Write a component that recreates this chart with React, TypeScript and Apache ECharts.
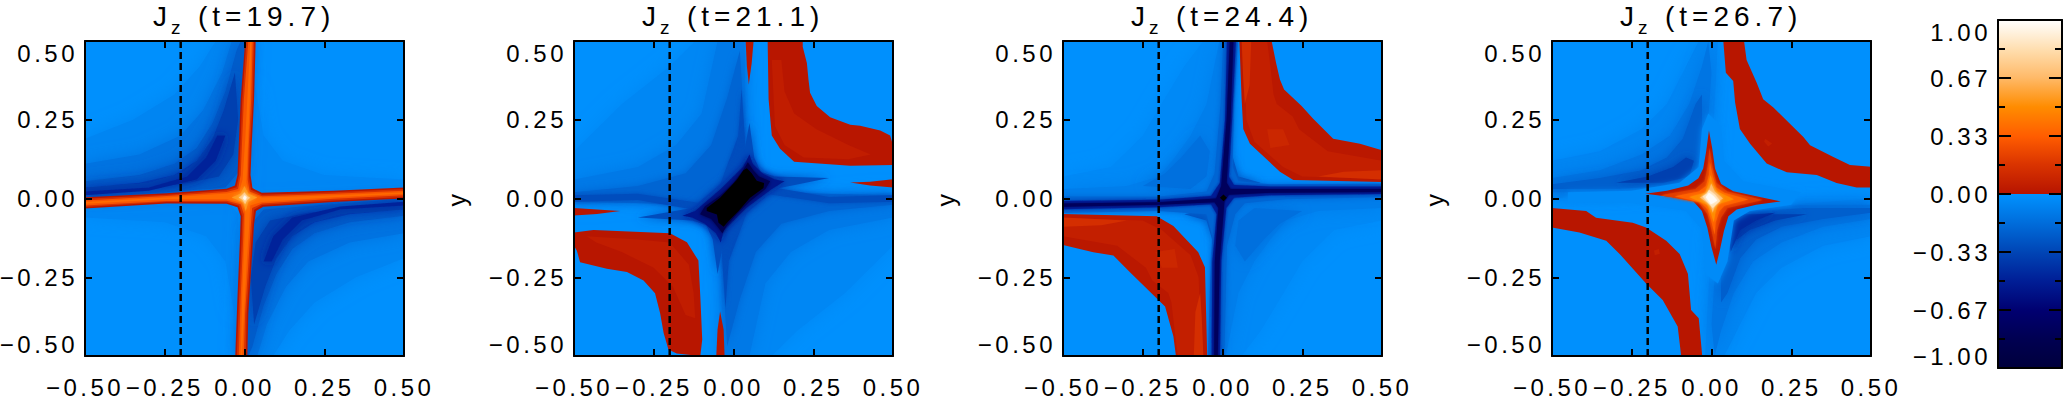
import React, { useEffect, useRef } from "react";
import * as echarts from "echarts";

type Layer = { level: number; pts: number[]; mirror?: boolean; soft?: number };

const titles = ["19.7", "21.1", "24.4", "26.7"];
const panelLefts = [85, 574, 1063, 1552];
const cutX = -0.2;
const cutLine = [[cutX, -0.5], [cutX, 0.5]];
const full = [-0.5, -0.5, 0.5, -0.5, 0.5, 0.5, -0.5, 0.5];

const negStops: [number, number[]][] = [
  [-1, [0, 0, 60]], [-0.83, [0, 0, 82]], [-0.67, [0, 0, 112]], [-0.5, [0, 30, 150]],
  [-0.33, [0, 70, 182]], [-0.17, [0, 108, 218]], [0, [0, 146, 255]],
];
const posStops: [number, number[]][] = [
  [0, [182, 20, 0]], [0.17, [218, 52, 0]], [0.33, [255, 92, 0]], [0.5, [255, 140, 0]],
  [0.67, [255, 186, 105]], [0.83, [255, 222, 175]], [1, [255, 255, 255]],
];

const panel1: Layer[] = [
  { level: -0.01, pts: full },
  { level: -0.05, mirror: true, soft: 16, pts: [0.03, 0.38, 0.06, 0.2, 0.12, 0.12, 0.25, 0.075, 0.5, 0.06, 0.5, 0.03, 0.05, 0.01, 0.02, 0.05] },
  { level: -0.06, mirror: true, soft: 18, pts: [-0.5, 0.19, -0.35, 0.25, -0.22, 0.33, -0.14, 0.42, -0.09, 0.5, 0.02, 0.5, 0, 0.02, -0.5, 0] },
  { level: -0.14, mirror: true, soft: 16, pts: [-0.5, 0.11, -0.33, 0.14, -0.2, 0.2, -0.13, 0.28, -0.07, 0.4, -0.04, 0.5, 0.02, 0.5, 0, 0.02, -0.5, 0] },
  { level: -0.24, mirror: true, soft: 14, pts: [-0.5, 0.055, -0.33, 0.075, -0.22, 0.11, -0.15, 0.16, -0.1, 0.24, -0.06, 0.34, -0.025, 0.47, -0.012, 0.5, 0.01, 0.5, -0.005, 0.1, -0.06, 0.035, -0.5, 0] },
  { level: -0.36, mirror: true, soft: 12, pts: [-0.5, 0.035, -0.33, 0.05, -0.22, 0.075, -0.15, 0.12, -0.1, 0.19, -0.065, 0.28, -0.03, 0.4, -0.02, 0.25, -0.035, 0.14, -0.08, 0.07, -0.2, 0.045, -0.5, 0.015] },
  { level: -0.48, mirror: true, soft: 10, pts: [-0.5, 0.022, -0.3, 0.035, -0.18, 0.07, -0.12, 0.13, -0.085, 0.2, -0.06, 0.2, -0.09, 0.12, -0.15, 0.06, -0.3, 0.025, -0.5, 0.01] },
  { level: 0.01, pts: [0.002, 0.5, 0.035, 0.5, 0.03, 0.315, 0.022, 0.158, 0.019, 0.075, 0.025, 0.033, 0.054, 0.018, 0.278, 0.025, 0.5, 0.035, 0.5, 0, 0.278, -0.011, 0.059, -0.026, 0.036, -0.04, 0.03, -0.082, 0.022, -0.207, 0.012, -0.364, 0.009, -0.5, -0.029, -0.5, -0.022, -0.312, -0.014, -0.124, -0.012, -0.056, -0.022, -0.028, -0.056, -0.017, -0.244, -0.016, -0.5, -0.032, -0.5, 0.004, -0.244, 0.017, -0.056, 0.031, -0.03, 0.041, -0.022, 0.075, -0.012, 0.315] },
  { level: 0.15, pts: [0.006, 0.5, 0.03, 0.5, 0.026, 0.315, 0.017, 0.158, 0.014, 0.07, 0.02, 0.028, 0.055, 0.012, 0.28, 0.02, 0.5, 0.03, 0.5, 0.005, 0.28, -0.006, 0.055, -0.021, 0.03, -0.036, 0.025, -0.082, 0.017, -0.207, 0.007, -0.364, 0.004, -0.5, -0.024, -0.5, -0.017, -0.312, -0.009, -0.124, -0.007, -0.056, -0.017, -0.023, -0.056, -0.012, -0.244, -0.011, -0.5, -0.027, -0.5, -0.001, -0.244, 0.012, -0.056, 0.026, -0.025, 0.036, -0.017, 0.075, -0.007, 0.315] },
  { level: 0.3, pts: [0.012, 0.5, 0.026, 0.5, 0.021, 0.315, 0.013, 0.158, 0.01, 0.06, 0.016, 0.022, 0.055, 0.007, 0.28, 0.015, 0.5, 0.025, 0.5, 0.01, 0.28, -0.001, 0.055, -0.016, 0.024, -0.03, 0.02, -0.082, 0.012, -0.207, 0.002, -0.364, -0.002, -0.5, -0.018, -0.5, -0.012, -0.312, -0.004, -0.124, -0.002, -0.05, -0.012, -0.018, -0.056, -0.007, -0.244, -0.008, -0.5, -0.022, -0.5, -0.006, -0.244, 0.008, -0.056, 0.021, -0.02, 0.03, -0.012, 0.075, -0.002, 0.315] },
  { level: 0.38, pts: [0.018, 0.5, 0.022, 0.5, 0.017, 0.315, 0.009, 0.13, 0.006, 0.05, 0.012, 0.018, 0.055, 0.003, 0.28, 0.01, 0.5, 0.02, 0.5, 0.015, 0.28, 0.004, 0.055, -0.011, 0.018, -0.022, 0.015, -0.082, 0.007, -0.207, -0.003, -0.4, -0.008, -0.5, -0.012, -0.5, -0.007, -0.3, 0, -0.124, 0.002, -0.045, -0.007, -0.014, -0.056, -0.002, -0.244, -0.002, -0.5, -0.017, -0.5, -0.011, -0.244, 0.003, -0.056, 0.016, -0.016, 0.024, -0.006, 0.06, 0.003, 0.2] },
  { level: 0.55, soft: 4, pts: [0, 0.04, 0.012, 0.015, 0.04, 0.003, 0.012, -0.01, 0.004, -0.04, -0.004, -0.012, -0.04, 0.003, -0.012, 0.016] },
  { level: 0.75, soft: 3, pts: [0, 0.02, 0.008, 0.008, 0.018, 0.002, 0.008, -0.005, 0.002, -0.018, -0.006, -0.004, -0.018, 0.003, -0.008, 0.01] },
  { level: 0.97, soft: 2, pts: [0, 0.01, 0.007, 0.003, 0.002, -0.006, -0.005, 0.001] },
];

const panel2: Layer[] = [
  { level: -0.01, pts: full },
  { level: -0.05, mirror: true, soft: 18, pts: [-0.5, 0.15, -0.35, 0.3, -0.2, 0.42, -0.12, 0.5, 0.04, 0.5, 0.05, 0.1, 0, 0.02, -0.5, -0.02] },
  { level: -0.11, mirror: true, soft: 16, pts: [-0.5, 0.06, -0.3, 0.1, -0.18, 0.17, -0.1, 0.27, -0.05, 0.5, 0.035, 0.5, 0.04, 0.1, -0.5, 0] },
  { level: -0.2, mirror: true, soft: 10, pts: [-0.5, 0.02, -0.3, 0.04, -0.15, 0.08, -0.07, 0.17, -0.02, 0.32, 0.02, 0.47, 0.03, 0.3, 0.04, 0.08, -0.1, -0.02, -0.5, -0.01] },
  { level: -0.3, mirror: true, soft: 5, pts: [-0.5, 0.01, -0.3, 0.015, -0.1, -0.015, -0.04, 0.05, 0.015, 0.2, 0.025, 0.35, 0.035, 0.2, 0.04, 0.1, 0, -0.02, -0.1, -0.04, -0.3, -0.005, -0.5, -0.01] },
  { level: -0.3, soft: 10, pts: [0.05, 0.24, 0.065, 0.13, 0.085, 0.085, 0.13, 0.07, 0.3, 0.065, 0.13, 0.03, 0.06, -0.03, 0.01, -0.07, -0.03, -0.13, -0.05, -0.24, -0.065, -0.13, -0.085, -0.085, -0.13, -0.07, -0.3, -0.06, -0.13, -0.03, -0.06, 0.03, -0.01, 0.07, 0.03, 0.13] },
  { level: -0.55, soft: 7, pts: [0.05, 0.14, 0.06, 0.11, 0.09, 0.08, 0.13, 0.06, 0.16, 0.055, 0.12, 0.03, 0.04, -0.03, -0.03, -0.1, -0.04, -0.14, -0.055, -0.11, -0.09, -0.08, -0.13, -0.06, -0.16, -0.055, -0.12, -0.04, -0.04, 0.03, 0.03, 0.1] },
  { level: -0.85, soft: 4, pts: [0.045, 0.115, 0.062, 0.09, 0.08, 0.07, 0.115, 0.055, 0.1, 0.03, 0.05, -0.01, 0.01, -0.05, -0.02, -0.085, -0.035, -0.11, -0.05, -0.09, -0.07, -0.065, -0.105, -0.05, -0.09, -0.025, -0.04, 0.01, 0, 0.05, 0.03, 0.09] },
  { level: -1.1, pts: [0.042, 0.096, 0.057, 0.08, 0.073, 0.056, 0.096, 0.049, 0.094, 0.033, 0.052, 0.002, 0.016, -0.04, -0.016, -0.072, -0.031, -0.09, -0.047, -0.077, -0.052, -0.051, -0.084, -0.04, -0.084, -0.03, -0.042, 0.002, 0.01, 0.059, 0.031, 0.09] },
  { level: 0.01, pts: [0.107, 0.5, 0.217, 0.5, 0.217, 0.482, 0.23, 0.43, 0.235, 0.378, 0.24, 0.336, 0.261, 0.294, 0.303, 0.258, 0.366, 0.234, 0.397, 0.231, 0.46, 0.216, 0.491, 0.2, 0.5, 0.169, 0.5, 0.106, 0.366, 0.104, 0.19, 0.117, 0.146, 0.158, 0.12, 0.2, 0.11, 0.315] },
  { level: 0.05, pts: [0.12, 0.44, 0.15, 0.44, 0.16, 0.34, 0.19, 0.27, 0.26, 0.22, 0.36, 0.17, 0.43, 0.14, 0.36, 0.125, 0.22, 0.13, 0.16, 0.17, 0.13, 0.23] },
  { level: 0.01, pts: [-0.5, -0.108, -0.439, -0.1, -0.199, -0.11, -0.146, -0.139, -0.11, -0.197, -0.104, -0.312, -0.098, -0.448, -0.104, -0.5, -0.178, -0.492, -0.204, -0.479, -0.219, -0.427, -0.23, -0.364, -0.246, -0.301, -0.282, -0.26, -0.334, -0.233, -0.397, -0.223, -0.481, -0.202, -0.491, -0.166, -0.5, -0.15] },
  { level: 0.05, pts: [-0.46, -0.12, -0.3, -0.13, -0.2, -0.14, -0.14, -0.21, -0.125, -0.3, -0.12, -0.38, -0.15, -0.37, -0.19, -0.28, -0.25, -0.22, -0.35, -0.17, -0.43, -0.14] },
  { level: 0.01, pts: [0.038, 0.5, 0.063, 0.5, 0.057, 0.43, 0.048, 0.362, 0.042, 0.42] },
  { level: 0.01, pts: [-0.054, -0.5, -0.028, -0.5, -0.031, -0.416, -0.042, -0.359, -0.05, -0.416] },
  { level: 0.01, pts: [0.5, 0.061, 0.5, 0.035, 0.428, 0.041, 0.366, 0.051, 0.428, 0.053] },
  { level: 0.01, pts: [-0.5, -0.03, -0.5, -0.054, -0.428, -0.049, -0.355, -0.04, -0.428, -0.035] },
];

const panel3: Layer[] = [
  { level: -0.01, pts: full },
  { level: -0.04, mirror: true, soft: 18, pts: [-0.5, 0.07, -0.35, 0.1, -0.25, 0.2, -0.18, 0.32, -0.12, 0.42, -0.06, 0.5, 0.01, 0.5, 0, 0, -0.5, -0.01] },
  { level: -0.09, mirror: true, soft: 16, pts: [-0.5, 0.03, -0.3, 0.04, -0.2, 0.07, -0.15, 0.13, -0.1, 0.2, -0.05, 0.3, -0.01, 0.5, 0.01, 0.5, 0, 0, -0.5, -0.01] },
  { level: -0.15, mirror: true, soft: 14, pts: [-0.25, 0.04, -0.18, 0.08, -0.13, 0.13, -0.07, 0.2, -0.04, 0.15, -0.05, 0.07, -0.1, 0.03] },
  { level: -0.28, mirror: true, soft: 8, pts: [0.03, 0.14, 0.05, 0.07, 0.12, 0.05, 0.03, 0.03] },
  { level: -0.2, soft: 6, pts: [0.002, 0.5, 0.048, 0.5, 0.036, 0.3, 0.032, 0.1, 0.05, 0.055, 0.15, 0.045, 0.5, 0.048, 0.5, 0.004, 0.2, -0.002, 0.07, -0.015, 0.04, -0.05, 0.014, -0.15, 0.006, -0.5, -0.046, -0.5, -0.04, -0.3, -0.032, -0.12, -0.05, -0.05, -0.2, -0.04, -0.5, -0.046, -0.5, 0.006, -0.2, 0.006, -0.05, 0.022, -0.025, 0.08, -0.006, 0.3] },
  { level: -0.5, soft: 3, pts: [0.014, 0.5, 0.042, 0.5, 0.03, 0.25, 0.02, 0.07, 0.036, 0.043, 0.15, 0.038, 0.5, 0.038, 0.5, 0.014, 0.15, 0.01, 0.036, 0.002, 0.012, -0.03, -0.004, -0.2, -0.008, -0.5, -0.034, -0.5, -0.032, -0.2, -0.018, -0.05, -0.036, -0.018, -0.2, -0.028, -0.5, -0.034, -0.5, -0.008, -0.2, -0.004, -0.036, 0.008, -0.008, 0.05, 0.008, 0.25] },
  { level: -0.78, soft: 2, pts: [0.023, 0.5, 0.034, 0.5, 0.025, 0.25, 0.013, 0.05, 0.025, 0.03, 0.15, 0.03, 0.5, 0.03, 0.5, 0.021, 0.15, 0.018, 0.02, 0.012, 0.006, -0.01, -0.009, -0.2, -0.015, -0.5, -0.026, -0.5, -0.024, -0.2, -0.013, -0.03, -0.025, -0.012, -0.2, -0.02, -0.5, -0.026, -0.5, -0.016, -0.2, -0.012, -0.02, 0, -0.004, 0.04, 0.013, 0.25] },
  { level: -1.1, pts: [0.003, 0.013, 0.014, 0.002, 0.003, -0.009, -0.008, 0.002] },
  { level: 0.02, pts: [0.053, 0.5, 0.154, 0.5, 0.168, 0.43, 0.18, 0.378, 0.193, 0.346, 0.248, 0.294, 0.285, 0.252, 0.347, 0.19, 0.431, 0.174, 0.5, 0.153, 0.5, 0.052, 0.222, 0.059, 0.18, 0.085, 0.086, 0.174, 0.065, 0.221, 0.06, 0.315] },
  { level: 0.06, pts: [0.065, 0.5, 0.14, 0.5, 0.15, 0.42, 0.16, 0.33, 0.17, 0.3, 0.22, 0.26, 0.24, 0.22, 0.33, 0.15, 0.5, 0.12, 0.5, 0.062, 0.25, 0.07, 0.19, 0.1, 0.1, 0.18, 0.075, 0.25] },
  { level: 0.14, pts: [0.06, 0.5, 0.09, 0.5, 0.085, 0.36, 0.07, 0.3, 0.065, 0.38] },
  { level: 0.14, pts: [0.5, 0.06, 0.5, 0.09, 0.38, 0.085, 0.3, 0.07] },
  { level: 0.1, pts: [0.14, 0.22, 0.19, 0.22, 0.21, 0.17, 0.15, 0.16] },
  { level: 0.02, pts: [-0.5, -0.049, -0.206, -0.056, -0.154, -0.087, -0.076, -0.171, -0.055, -0.218, -0.048, -0.5, -0.146, -0.5, -0.154, -0.437, -0.18, -0.343, -0.201, -0.322, -0.29, -0.234, -0.342, -0.181, -0.405, -0.171, -0.5, -0.148] },
  { level: 0.06, pts: [-0.065, -0.5, -0.14, -0.5, -0.15, -0.42, -0.16, -0.33, -0.17, -0.3, -0.22, -0.26, -0.24, -0.22, -0.33, -0.15, -0.5, -0.12, -0.5, -0.062, -0.25, -0.07, -0.19, -0.1, -0.1, -0.18, -0.075, -0.25] },
  { level: 0.14, pts: [-0.06, -0.5, -0.09, -0.5, -0.085, -0.36, -0.07, -0.3, -0.065, -0.38] },
  { level: 0.14, pts: [-0.5, -0.06, -0.5, -0.09, -0.38, -0.085, -0.3, -0.07] },
  { level: 0.1, pts: [-0.14, -0.22, -0.19, -0.22, -0.21, -0.17, -0.15, -0.16] },
];

const panel4: Layer[] = [
  { level: -0.01, pts: full },
  { level: -0.06, mirror: true, soft: 18, pts: [-0.5, 0.12, -0.35, 0.15, -0.22, 0.22, -0.14, 0.3, -0.08, 0.42, -0.04, 0.5, 0.02, 0.5, 0, 0.1, -0.1, 0.03, -0.5, 0] },
  { level: -0.13, mirror: true, soft: 16, pts: [-0.5, 0.065, -0.35, 0.09, -0.22, 0.14, -0.13, 0.2, -0.07, 0.3, -0.03, 0.42, -0.01, 0.5, 0, 0.4, -0.01, 0.25, -0.03, 0.09, -0.1, 0.03, -0.3, 0.02, -0.5, 0.02] },
  { level: -0.23, mirror: true, soft: 12, pts: [-0.5, 0.045, -0.35, 0.065, -0.22, 0.09, -0.14, 0.13, -0.09, 0.19, -0.05, 0.3, -0.03, 0.33, -0.03, 0.15, -0.05, 0.08, -0.12, 0.04, -0.3, 0.03, -0.5, 0.03] },
  { level: -0.36, mirror: true, soft: 10, pts: [-0.3, 0.05, -0.2, 0.07, -0.12, 0.1, -0.08, 0.13, -0.055, 0.12, -0.07, 0.07, -0.15, 0.05] },
  { level: -0.45, soft: 8, pts: [0.08, -0.05, 0.14, -0.05, 0.2, -0.045, 0.14, -0.07, 0.09, -0.1, 0.06, -0.17, 0.05, -0.1] },
  { level: -0.03, soft: 6, pts: [-0.45, 0.02, -0.25, 0.025, -0.1, 0.05, -0.04, 0.1, -0.03, 0.22, -0.01, 0.27, 0.03, 0.23, 0.04, 0.12, 0.1, 0.055, 0.28, 0.02, 0.25, -0.02, 0.12, -0.04, 0.07, -0.07, 0.05, -0.2, 0.02, -0.27, -0.02, -0.24, -0.03, -0.1, -0.08, -0.04, -0.25, -0.015, -0.45, -0.012] },
  { level: 0.01, pts: [0.037, 0.5, 0.102, 0.5, 0.11, 0.44, 0.142, 0.367, 0.162, 0.315, 0.194, 0.289, 0.288, 0.195, 0.309, 0.169, 0.382, 0.132, 0.434, 0.106, 0.5, 0.101, 0.5, 0.035, 0.455, 0.035, 0.392, 0.049, 0.33, 0.075, 0.236, 0.083, 0.173, 0.111, 0.121, 0.174, 0.089, 0.221, 0.074, 0.305, 0.068, 0.373, 0.045, 0.399] },
  { level: 0.01, pts: [-0.5, -0.03, -0.393, -0.04, -0.362, -0.061, -0.247, -0.077, -0.205, -0.092, -0.142, -0.134, -0.1, -0.176, -0.074, -0.239, -0.064, -0.354, -0.04, -0.38, -0.029, -0.5, -0.095, -0.5, -0.106, -0.406, -0.153, -0.322, -0.205, -0.27, -0.288, -0.176, -0.33, -0.134, -0.414, -0.108, -0.5, -0.092] },
  { level: 0.06, pts: [0.168, 0.19, 0.19, 0.175, 0.178, 0.165, 0.165, 0.18] },
  { level: 0.06, pts: [-0.165, -0.16, -0.18, -0.165, -0.178, -0.18, -0.162, -0.175] },
  { level: 0.01, pts: [-0.008, 0.216, 0.002, 0.16, 0.011, 0.095, 0.03, 0.046, 0.068, 0.023, 0.14, 0.007, 0.217, -0.009, 0.14, -0.02, 0.079, -0.035, 0.053, -0.056, 0.039, -0.103, 0.026, -0.165, 0.015, -0.21, 0, -0.155, -0.013, -0.093, -0.03, -0.04, -0.057, -0.009, -0.119, 0.004, -0.208, 0.015, -0.14, 0.025, -0.073, 0.041, -0.041, 0.064, -0.026, 0.095, -0.017, 0.148] },
  { level: 0.2, soft: 3, pts: [-0.006, 0.16, 0.003, 0.1, 0.015, 0.05, 0.05, 0.022, 0.16, -0.005, 0.05, -0.03, 0.03, -0.06, 0.018, -0.1, 0.012, -0.16, 0, -0.1, -0.012, -0.05, -0.04, -0.012, -0.16, 0.01, -0.05, 0.03, -0.022, 0.055, -0.012, 0.1] },
  { level: 0.35, soft: 3, pts: [-0.005, 0.115, 0.004, 0.07, 0.015, 0.035, 0.04, 0.018, 0.115, -0.003, 0.04, -0.023, 0.025, -0.04, 0.013, -0.075, 0.01, -0.115, -0.001, -0.07, -0.012, -0.035, -0.035, -0.012, -0.115, 0.007, -0.04, 0.022, -0.017, 0.04, -0.008, 0.075] },
  { level: 0.5, soft: 3, pts: [-0.003, 0.075, 0.005, 0.045, 0.018, 0.022, 0.07, -0.002, 0.02, -0.018, 0.012, -0.045, 0.007, -0.075, -0.002, -0.045, -0.014, -0.02, -0.07, 0.005, -0.02, 0.018, -0.01, 0.045] },
  { level: 0.67, soft: 3, pts: [-0.001, 0.048, 0.01, 0.022, 0.036, 0, 0.012, -0.015, 0.004, -0.045, -0.003, -0.02, -0.036, 0.003, -0.01, 0.018] },
  { level: 0.85, soft: 3, pts: [-0.008, 0.028, 0.012, 0.012, 0.027, -0.008, 0.012, -0.022, 0.004, -0.03, -0.012, -0.012, -0.028, 0.006, -0.015, 0.015] },
  { level: 0.98, soft: 2, pts: [-0.008, 0.018, 0.006, 0.008, 0.018, -0.006, 0.006, -0.014, -0.002, -0.018, -0.01, -0.006, -0.018, 0.004] },
];

const panels = [panel1, panel2, panel3, panel4];

function ramp(stops: [number, number[]][], v: number) {
  for (let i = 1; i < stops.length; i++) {
    const [a, ca] = stops[i - 1];
    const [b, cb] = stops[i];
    if (v <= b) {
      const t = (v - a) / (b - a);
      return `rgb(${ca.map((c, k) => Math.round(c + (cb[k] - c) * t)).join(",")})`;
    }
  }
  return "#fff";
}
function colorOf(level: number) {
  if (level < -1) return "#000";
  return level < 0 ? ramp(negStops, level) : ramp(posStops, level);
}
function expand(layers: Layer[]) {
  const out: Layer[] = [];
  layers.forEach((l) => {
    out.push(l);
    if (l.mirror) out.push({ ...l, pts: l.pts.map((p) => -p) });
  });
  return out;
}
function fmt(v: number) {
  const s = Math.abs(v) < 1e-6 ? "0.00" : v.toFixed(2);
  return s.replace("-", "\u2212");
}

const css = `
.jz text { letter-spacing: 3.5px; }
.jz text[style*="28px"] { letter-spacing: 5px; }
`;

export default function App() {
  const ref = useRef<HTMLDivElement>(null);
  useEffect(() => {
    const chart = echarts.init(ref.current!, null, { renderer: "svg" });
    const font = "Liberation Sans";
    const grid: any[] = [];
    const xAxis: any[] = [];
    const yAxis: any[] = [];
    const series: any[] = [];
    const graphic: any[] = [];
    const line = { show: true, onZero: false, lineStyle: { color: "#000", width: 2 } };
    const tick = { show: true, inside: true, length: 7, lineStyle: { color: "#000", width: 2 } };
    panels.forEach((layers, i) => {
      const left = panelLefts[i];
      const all = expand(layers);
      grid.push({ left, top: 41, width: 319, height: 319 });
      const base = { type: "value", min: -0.5, max: 0.5, interval: 0.25, gridIndex: i, splitLine: { show: false }, axisLine: line, axisTick: tick, z: 10 };
      const lab = { color: "#000", fontFamily: font, fontSize: 24, formatter: fmt, showMinLabel: true, showMaxLabel: true };
      xAxis.push({ ...base, position: "bottom", axisLabel: { ...lab, margin: 19 } });
      xAxis.push({ ...base, position: "top", axisLabel: { show: false } });
      yAxis.push({
        ...base, position: "left",
        axisLabel: { ...lab, margin: 7, verticalAlignMinLabel: "bottom", verticalAlignMaxLabel: "top" },
        ...(i > 0 ? { name: "y", nameLocation: "middle", nameGap: 105, nameRotate: 90, nameTextStyle: { color: "#000", fontFamily: font, fontSize: 25 } } : {}),
      });
      yAxis.push({ ...base, position: "right", axisLabel: { show: false } });
      series.push({
        type: "custom", xAxisIndex: 2 * i, yAxisIndex: 2 * i, clip: true, silent: true, z: 2,
        data: all.map((_, k) => [0, 0, k]),
        renderItem: (_: any, api: any) => {
          const l = all[api.value(2)];
          const points: number[][] = [];
          for (let k = 0; k < l.pts.length; k += 2) points.push(api.coord([l.pts[k], l.pts[k + 1]]));
          const fill = colorOf(l.level);
          return { type: "polygon", shape: { points }, style: { fill, shadowBlur: l.soft || 0, shadowColor: l.soft ? fill : "transparent" } };
        },
      });
      series.push({
        type: "line", xAxisIndex: 2 * i, yAxisIndex: 2 * i, data: cutLine, showSymbol: false, symbol: "none", silent: true, z: 5,
        lineStyle: { color: "#000", width: 2.5, type: [7, 4] },
      });
      const tx = left + 68;
      graphic.push({ type: "text", x: tx, y: 2, style: { text: "J", fill: "#000", font: `28px ${font}` } });
      graphic.push({ type: "text", x: tx + 18, y: 18, style: { text: "z", fill: "#000", font: `19px ${font}` } });
      graphic.push({ type: "text", x: tx + 45, y: 2, style: { text: `(t=${titles[i]})`, fill: "#000", font: `28px ${font}` } });
    });

    // colour bar
    const bi = 4;
    grid.push({ left: 1998, top: 20, width: 64, height: 348 });
    const cb = { gridIndex: bi, type: "value", splitLine: { show: false }, axisLine: line, z: 10 };
    xAxis.push({ ...cb, min: 0, max: 1, position: "bottom", axisTick: { show: false }, axisLabel: { show: false } });
    xAxis.push({ ...cb, min: 0, max: 1, position: "top", axisTick: { show: false }, axisLabel: { show: false } });
    const yb = {
      ...cb, min: -1, max: 1, interval: 1 / 3,
      axisTick: { show: true, inside: true, length: 13, lineStyle: { color: "#000", width: 2 } },
      minorTick: { show: true, splitNumber: 2, length: 7, lineStyle: { color: "#000", width: 2 } },
    };
    yAxis.push({
      ...yb, position: "left",
      axisLabel: { color: "#000", fontFamily: font, fontSize: 24, margin: 7, formatter: fmt, showMinLabel: true, showMaxLabel: true, verticalAlignMinLabel: "bottom", verticalAlignMaxLabel: "top" },
    });
    yAxis.push({ ...yb, position: "right", axisLabel: { show: false } });
    const gradStops = [...posStops].reverse().map(([v, c]) => ({ offset: (1 - v) / 2, color: `rgb(${c.join(",")})` }))
      .concat([...negStops].reverse().map(([v, c]) => ({ offset: (1 - v) / 2, color: `rgb(${c.join(",")})` })));
    series.push({
      type: "custom", xAxisIndex: 2 * bi, yAxisIndex: 2 * bi, silent: true, z: 2, clip: true,
      data: [[0, 1, 1, -1]],
      renderItem: (_: any, api: any) => {
        const a = api.coord([api.value(0), api.value(1)]);
        const b = api.coord([api.value(2), api.value(3)]);
        return {
          type: "rect",
          shape: { x: a[0], y: a[1], width: b[0] - a[0], height: b[1] - a[1] },
          style: { fill: new echarts.graphic.LinearGradient(0, 0, 0, 1, gradStops) },
        };
      },
    });

    chart.setOption({ animation: false, backgroundColor: "#fff", grid, xAxis, yAxis, series, graphic });
    return () => chart.dispose();
  }, []);
  return (
    <>
      <style>{css}</style>
      <div ref={ref} className="jz" style={{ position: "fixed", left: 0, top: 0, width: 2063, height: 399 }} />
    </>
  );
}
